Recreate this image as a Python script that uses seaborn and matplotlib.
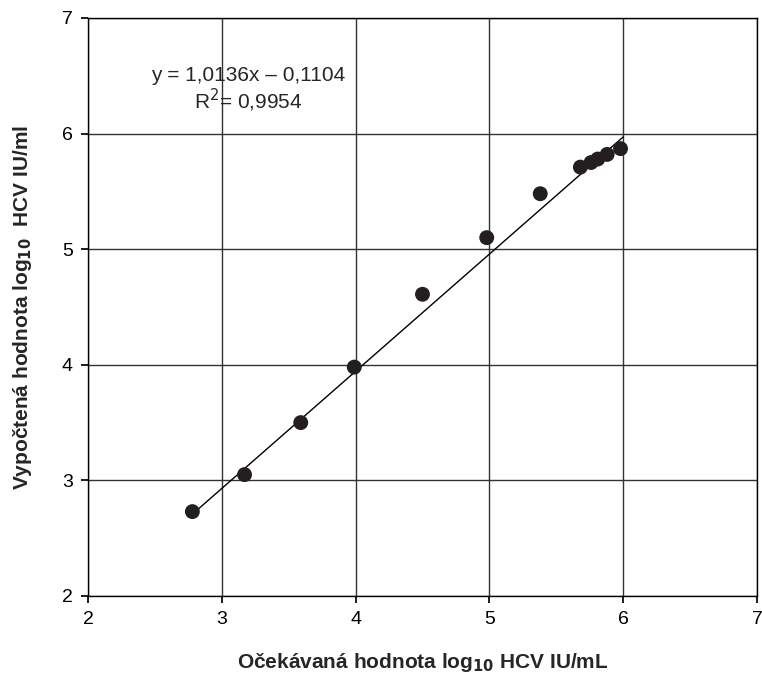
import numpy as np
import pandas as pd
import seaborn as sns
import matplotlib
matplotlib.use("Agg")
import matplotlib.pyplot as plt

expected = [2.78, 3.17, 3.59, 3.99, 4.50, 4.98, 5.38, 5.68, 5.76, 5.81, 5.88, 5.98]
measured = [2.73, 3.05, 3.50, 3.98, 4.61, 5.10, 5.48, 5.71, 5.75, 5.78, 5.82, 5.87]
slope, intercept = 1.0136, -0.1104
line_x = [2.77, 6.0]
ticks = [2, 3, 4, 5, 6, 7]

sns.set_theme(style="white")
plt.rcParams['font.family'] = ['Liberation Sans', 'DejaVu Sans']

df = pd.DataFrame({"x": expected, "y": measured})
fig = plt.figure(figsize=(7.62, 6.77), dpi=100)
ax = fig.add_axes([88/762, 81/677, (757-88)/762, (596-18)/677])

ax.plot(line_x, [slope * v + intercept for v in line_x], color="black", lw=1.0, zorder=2)
sns.scatterplot(data=df, x="x", y="y", ax=ax, color="#231f20", s=115, edgecolor="none", zorder=3)

ax.set_xlim(2, 7)
ax.set_ylim(2, 7)
ax.set_xticks(ticks)
ax.set_yticks(ticks)
ax.grid(True, color="#333333", lw=1.0)
ax.set_axisbelow(True)
for s in ax.spines.values():
    s.set_color("black")
    s.set_linewidth(1.0)
ax.tick_params(axis="both", labelsize=14, colors="black", length=5, direction="out",
               bottom=True, left=True, pad=6)

ax.set_xlabel(r"Očekávaná hodnota log$_{\mathbf{10}}$ HCV IU/mL", fontsize=15,
              fontweight="bold", labelpad=16)
ax.set_ylabel(r"Vypočtená hodnota log$_{\mathbf{10}}$  HCV IU/ml", fontsize=15,
              fontweight="bold", labelpad=20)

ax.text(3.2, 6.5, "y = 1,0136x – 0,1104", ha="center", va="center", fontsize=15)
ax.text(3.2, 6.29, r"R$^2$= 0,9954", ha="center", va="center", fontsize=15)

fig.savefig("out.png", dpi=100)
